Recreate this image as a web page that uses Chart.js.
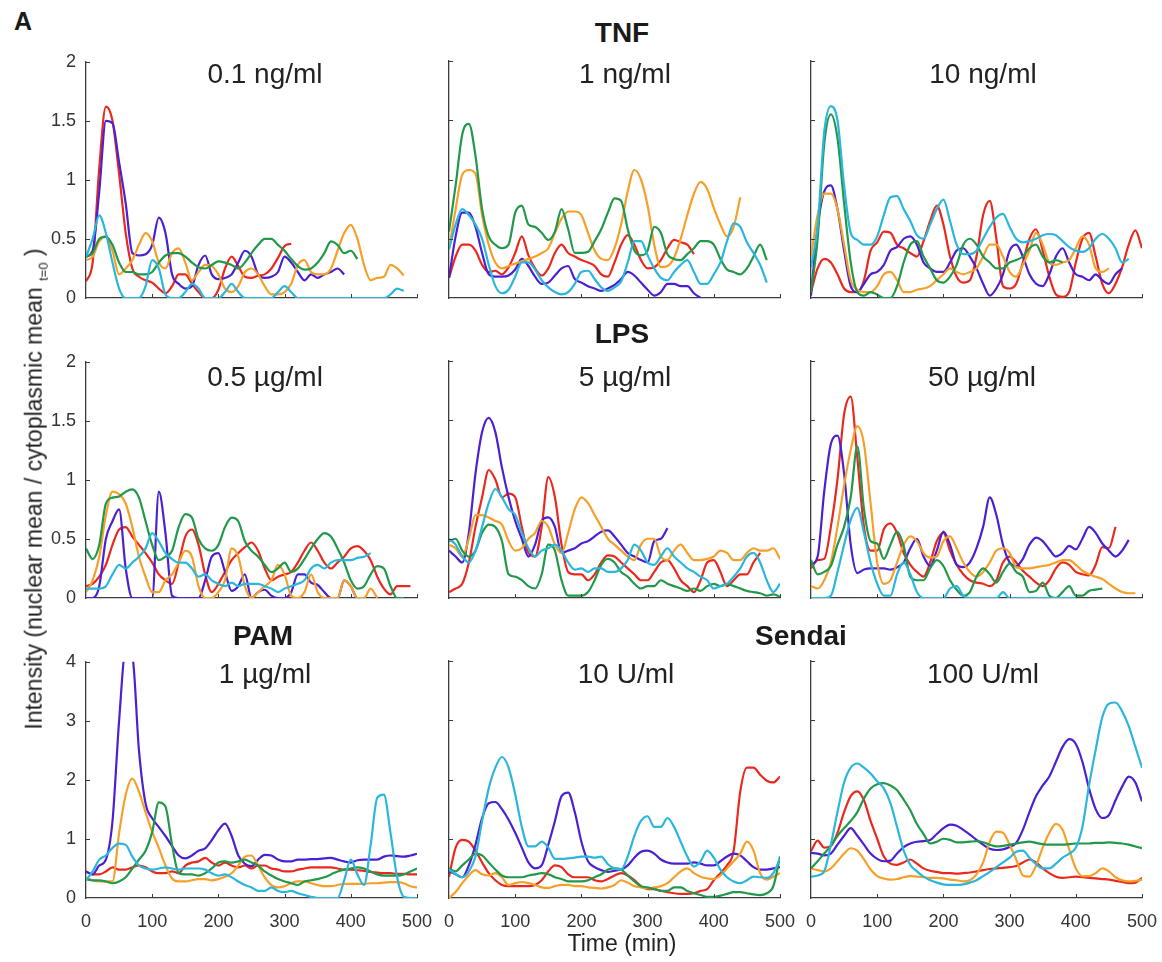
<!DOCTYPE html>
<html>
<head>
<meta charset="utf-8">
<script src="https://cdn.jsdelivr.net/npm/chart.js@4.4.1/dist/chart.umd.min.js"></script>
<style>
  body { margin: 0; background: #fff; }
  #figure { position: relative; width: 1162px; height: 962px; font-family: 'Liberation Sans', Arial, sans-serif; color: #1a1a1a; overflow: hidden; }
  #figure canvas { position: absolute; }
  .lbl { position: absolute; transform: translate(-50%, -50%); white-space: nowrap; line-height: 1; }
  .head { font-weight: bold; font-size: 28px; }
  .dose { font-size: 28px; color: #222; }
  #ylab { position: absolute; left: 36px; top: 489px; transform: translate(-50%, -50%) rotate(-90deg); white-space: nowrap; font-size: 23px; line-height: 1; color: #222; }
  #ylab sub { font-size: 13px; }
</style>
</head>
<body>
<div id="figure">
  <div class="lbl head" style="left:23px; top:21px; font-size:25px;">A</div>
  <div class="lbl head" style="left:622px; top:33px;">TNF</div>
  <div class="lbl head" style="left:622px; top:334px;">LPS</div>
  <div class="lbl head" style="left:263px; top:636px;">PAM</div>
  <div class="lbl head" style="left:801px; top:636px;">Sendai</div>
  <div class="lbl dose" style="left:265px; top:74px;">0.1 ng/ml</div>
  <div class="lbl dose" style="left:625px; top:74px;">1 ng/ml</div>
  <div class="lbl dose" style="left:983px; top:74px;">10 ng/ml</div>
  <div class="lbl dose" style="left:265px; top:377px;">0.5 µg/ml</div>
  <div class="lbl dose" style="left:625px; top:377px;">5 µg/ml</div>
  <div class="lbl dose" style="left:982px; top:377px;">50 µg/ml</div>
  <div class="lbl dose" style="left:265px; top:674px;">1 µg/ml</div>
  <div class="lbl dose" style="left:626px; top:674px;">10 U/ml</div>
  <div class="lbl dose" style="left:983px; top:674px;">100 U/ml</div>
  <div class="lbl" style="left:622px; top:943px; font-size:23px; color:#222;">Time (min)</div>
  <div id="ylab">Intensity (nuclear mean / cytoplasmic mean <sub>t=0</sub> )</div>
</div>
<script>
// temps (min), un point toutes les 10 min
const times = [0,10,20,30,40,50,60,70,80,90,100,110,120,130,140,150,160,170,180,190,200,
  210,220,230,240,250,260,270,280,290,300,310,320,330,340,350,360,370,380,390,400,
  410,420,430,440,450,460,470,480,490,500];

// graduations
const yValsLow = [0, 0.5, 1, 1.5, 2];
const yLabelsLow = ['0', '0.5', '1', '1.5', '2'];
const yValsHigh = [0, 1, 2, 3, 4];
const yLabelsHigh = ['0', '1', '2', '3', '4'];

// TNF 0.1 ng/ml
const tnf01Cyan = [0.35,0.5,0.7,0.55,0.3,0.08,0,0,0,0.1,0.32,0.25,0.03,0,0,0.05,0.12,0.08,0,0,0,0.05,0.12,0.05,0,0,0,0,0,0.05,0.1,0.05,0,0,0,0,0,0,0,0,0,0,0,0,0,0,0.03,0.08,0.06];
const tnf01Green = [0.35,0.38,0.5,0.52,0.45,0.3,0.22,0.22,0.2,0.2,0.22,0.3,0.36,0.38,0.38,0.35,0.3,0.26,0.25,0.28,0.31,0.3,0.28,0.25,0.3,0.38,0.45,0.5,0.5,0.45,0.4,0.33,0.27,0.24,0.25,0.3,0.38,0.48,0.45,0.38,0.4,0.33];
const tnf01Orange = [0.32,0.35,0.48,0.52,0.4,0.2,0.25,0.32,0.45,0.55,0.48,0.3,0.25,0.38,0.42,0.3,0.15,0.22,0.28,0.27,0.2,0.08,0.05,0.1,0.22,0.25,0.2,0.1,0.03,0.03,0.05,0.12,0.28,0.32,0.22,0.2,0.2,0.25,0.4,0.55,0.62,0.5,0.28,0.15,0.17,0.18,0.28,0.25,0.19];
const tnf01Purple = [0.35,0.4,0.9,1.5,1.48,1.15,0.8,0.38,0.36,0.37,0.45,0.68,0.55,0.2,0.12,0.08,0.1,0.28,0.36,0.2,0.16,0.17,0.2,0.3,0.4,0.35,0.2,0.17,0.18,0.22,0.35,0.3,0.22,0.15,0.2,0.17,0.2,0.22,0.25,0.2];
const tnf01Red = [0.14,0.3,1.1,1.62,1.5,1.05,0.55,0.25,0.18,0.15,0.13,0.08,0.04,0.1,0.2,0.2,0.12,0.05,0,0,0.07,0.25,0.35,0.27,0.18,0.17,0.19,0.2,0.25,0.34,0.44,0.46];

// TNF 1 ng/ml
const tnf1Cyan = [0.41,0.62,0.75,0.7,0.62,0.5,0.28,0.1,0.04,0.07,0.18,0.3,0.3,0.24,0.15,0.09,0.05,0.03,0.05,0.12,0.22,0.23,0.16,0.09,0.06,0.09,0.14,0.3,0.48,0.48,0.36,0.25,0.17,0.15,0.22,0.28,0.32,0.22,0.12,0.12,0.2,0.3,0.48,0.63,0.6,0.47,0.38,0.28,0.13];
const tnf1Green = [0.56,0.95,1.38,1.47,1.2,0.75,0.52,0.45,0.42,0.45,0.72,0.78,0.62,0.6,0.55,0.49,0.56,0.75,0.58,0.38,0.38,0.39,0.48,0.58,0.72,0.84,0.82,0.58,0.4,0.36,0.4,0.6,0.55,0.37,0.33,0.32,0.37,0.42,0.48,0.48,0.45,0.33,0.24,0.22,0.2,0.25,0.35,0.45,0.32];
const tnf1Orange = [0.41,0.75,1.04,1.08,1.05,0.7,0.45,0.3,0.25,0.27,0.29,0.31,0.33,0.35,0.38,0.42,0.55,0.67,0.73,0.73,0.7,0.55,0.4,0.33,0.32,0.42,0.62,0.9,1.08,1.0,0.78,0.45,0.26,0.27,0.34,0.5,0.7,0.88,0.98,0.92,0.76,0.62,0.52,0.6,0.85];
const tnf1Purple = [0.17,0.52,0.72,0.72,0.6,0.38,0.2,0.18,0.18,0.19,0.24,0.33,0.27,0.18,0.12,0.13,0.19,0.25,0.27,0.16,0.13,0.1,0.08,0.06,0.08,0.11,0.16,0.22,0.19,0.13,0.07,0.02,0.05,0.12,0.12,0.1,0.1,0.04,0];
const tnf1Red = [0.17,0.35,0.45,0.45,0.4,0.28,0.22,0.23,0.2,0.26,0.38,0.52,0.36,0.25,0.19,0.25,0.38,0.45,0.38,0.35,0.32,0.3,0.27,0.2,0.18,0.3,0.45,0.53,0.45,0.32,0.25,0.26,0.32,0.42,0.49,0.47,0.45,0.37];

// TNF 10 ng/ml
const tnf10Cyan = [0.26,0.6,1.4,1.62,1.5,0.95,0.55,0.49,0.45,0.45,0.52,0.7,0.85,0.86,0.75,0.65,0.53,0.5,0.62,0.75,0.83,0.65,0.45,0.37,0.37,0.4,0.5,0.6,0.68,0.71,0.6,0.5,0.47,0.48,0.5,0.53,0.54,0.53,0.48,0.43,0.4,0.39,0.42,0.5,0.54,0.5,0.42,0.3,0.33];
const tnf10Green = [0.05,0.5,1.3,1.55,1.35,0.8,0.3,0.05,0.02,0.05,0.03,0,0,0.1,0.3,0.45,0.48,0.35,0.25,0.15,0.13,0.18,0.28,0.45,0.5,0.45,0.35,0.3,0.25,0.25,0.3,0.32,0.35,0.42,0.45,0.35,0.3,0.32,0.3];
const tnf10Orange = [0.35,0.7,0.88,0.88,0.75,0.45,0.15,0.07,0.05,0.05,0.1,0.2,0.22,0.15,0.05,0.05,0.07,0.08,0.1,0.15,0.2,0.25,0.22,0.2,0.22,0.25,0.35,0.45,0.45,0.35,0.22,0.18,0.28,0.4,0.55,0.45,0.3,0.28,0.3,0.32,0.42,0.52,0.45,0.25,0.22,0.25];
const tnf10Purple = [0.02,0.6,0.9,0.95,0.75,0.4,0.1,0.05,0.12,0.2,0.22,0.28,0.4,0.43,0.5,0.52,0.45,0.3,0.25,0.22,0.22,0.3,0.4,0.42,0.35,0.25,0.12,0.02,0.08,0.2,0.4,0.45,0.35,0.2,0.12,0.1,0.2,0.35,0.42,0.3,0.2,0.18,0.15,0.2,0.15,0.12,0.2,0.25];
const tnf10Red = [0.05,0.25,0.33,0.3,0.2,0.08,0.05,0.05,0.15,0.4,0.47,0.56,0.55,0.45,0.42,0.38,0.35,0.48,0.65,0.78,0.62,0.35,0.18,0.13,0.15,0.35,0.7,0.82,0.5,0.1,0.08,0.12,0.3,0.5,0.58,0.4,0.18,0.03,0.01,0.05,0.3,0.5,0.55,0.35,0.12,0.04,0.12,0.26,0.45,0.57,0.42];

// LPS 0.5 µg/ml
const lps05Cyan = [0.08,0.08,0.08,0.1,0.2,0.28,0.25,0.3,0.35,0.42,0.55,0.48,0.38,0.33,0.3,0.3,0.25,0.18,0.2,0.15,0.12,0.1,0.13,0.1,0.12,0.12,0.12,0.1,0.08,0.05,0.08,0.1,0.12,0.15,0.25,0.28,0.25,0.3,0.32,0.32,0.32,0.34,0.35,0.38];
const lps05Green = [0.42,0.33,0.45,0.8,0.85,0.86,0.9,0.92,0.85,0.65,0.45,0.32,0.35,0.4,0.6,0.71,0.68,0.5,0.42,0.4,0.45,0.6,0.68,0.65,0.48,0.4,0.35,0.28,0.22,0.25,0.3,0.22,0.25,0.33,0.42,0.5,0.55,0.52,0.42,0.3,0.15,0.08,0.1,0.2,0.27,0.25,0.1,0,0];
const lps05Orange = [0.05,0.15,0.35,0.7,0.9,0.88,0.8,0.6,0.35,0.18,0.05,0.05,0.15,0.2,0.3,0.4,0.35,0.1,0,0,0.05,0.15,0.42,0.35,0.1,0,0.05,0.1,0.15,0.28,0.2,0.02,0,0.05,0.2,0.05,0,0,0,0.15,0.1,0,0,0.08,0];
const lps05Purple = [0,0,0.1,0.5,0.65,0.75,0.25,0,0,0,0,0.9,0.55,0.02,0,0,0,0,0.15,0.35,0.38,0.22,0.06,0.1,0.2,0,0.05,0.07,0.02,0,0,0.05,0.2,0.2,0.13,0.11,0.05,0,0,0.15,0.1,0,0];
const lps05Red = [0.1,0.12,0.18,0.28,0.45,0.58,0.6,0.52,0.45,0.38,0.3,0.2,0.15,0.12,0.3,0.52,0.58,0.45,0.2,0.05,0.12,0.22,0.32,0.38,0.43,0.47,0.4,0.25,0.15,0.18,0.2,0.22,0.3,0.4,0.47,0.4,0.3,0.25,0.3,0.35,0.42,0.44,0.4,0.32,0.18,0.08,0.03,0.1,0.1,0.1];

// LPS 5 µg/ml
const lps5Cyan = [0.5,0.45,0.35,0.3,0.4,0.6,0.8,0.92,0.85,0.75,0.7,0.55,0.42,0.35,0.4,0.42,0.45,0.4,0.3,0.24,0.25,0.22,0.25,0.25,0.22,0.22,0.25,0.32,0.45,0.4,0.3,0.28,0.35,0.42,0.35,0.3,0.25,0.22,0.18,0.15,0.08,0.1,0.12,0.18,0.25,0.35,0.38,0.3,0.15,0.05,0.12];
const lps5Green = [0.48,0.5,0.4,0.35,0.4,0.55,0.62,0.6,0.48,0.2,0.18,0.15,0.1,0.08,0.2,0.45,0.4,0.15,0.02,0.02,0.02,0.05,0.15,0.28,0.33,0.3,0.22,0.18,0.12,0.08,0.1,0.1,0.15,0.12,0.1,0.08,0.06,0.08,0.06,0.1,0.12,0.1,0.12,0.1,0.08,0.06,0.05,0.04,0.02,0.03,0.01];
const lps5Orange = [0.45,0.42,0.35,0.5,0.7,0.7,0.68,0.65,0.62,0.48,0.4,0.42,0.5,0.55,0.65,0.6,0.45,0.38,0.55,0.75,0.85,0.8,0.7,0.6,0.5,0.45,0.4,0.35,0.32,0.45,0.5,0.5,0.35,0.32,0.4,0.45,0.38,0.32,0.32,0.33,0.35,0.4,0.38,0.32,0.32,0.38,0.42,0.4,0.4,0.42,0.33];
const lps5Purple = [0.4,0.35,0.3,0.55,1.05,1.4,1.52,1.4,1.1,0.85,0.65,0.5,0.35,0.45,0.65,0.68,0.6,0.38,0.4,0.42,0.46,0.48,0.52,0.56,0.57,0.52,0.45,0.38,0.35,0.32,0.3,0.48,0.5,0.59];
const lps5Red = [0.05,0.08,0.12,0.3,0.6,0.85,1.08,1.0,0.85,0.88,0.85,0.6,0.38,0.35,0.6,1.02,0.85,0.45,0.22,0.2,0.2,0.15,0.2,0.3,0.36,0.35,0.3,0.25,0.2,0.15,0.15,0.22,0.3,0.32,0.25,0.15,0.1,0.05,0.15,0.3,0.32,0.22,0.1,0.15,0.2,0.2,0.3,0.38];

// LPS 50 µg/ml
const lps50Cyan = [0,0,0,0.02,0.22,0.45,0.66,0.76,0.55,0.3,0.12,0.02,0.02,0.2,0.3,0.2,0.05,0,0,0,0,0.08,0.1,0.02,0,0,0,0,0,0.05,0,0,0,0,0,0,0,0,0,0,0];
const lps50Green = [0.32,0.2,0.22,0.27,0.45,0.6,0.85,1.28,0.75,0.48,0.46,0.33,0.45,0.56,0.44,0.18,0.15,0.15,0.25,0.32,0.27,0.15,0.07,0.02,0.05,0.18,0.25,0.2,0.13,0.22,0.29,0.22,0.18,0.05,0.06,0.13,0.02,0,0.05,0.1,0.02,0.02,0.06,0.07,0.08];
const lps50Orange = [0.1,0.08,0.15,0.3,0.6,0.95,1.25,1.45,1.3,0.8,0.3,0.12,0.15,0.3,0.45,0.52,0.48,0.38,0.34,0.35,0.48,0.52,0.42,0.3,0.22,0.18,0.22,0.3,0.4,0.42,0.38,0.26,0.25,0.25,0.26,0.27,0.28,0.3,0.32,0.32,0.28,0.23,0.2,0.18,0.16,0.12,0.08,0.05,0.04,0.04];
const lps50Purple = [0.28,0.35,0.9,1.3,1.37,1.05,0.45,0.21,0.24,0.25,0.25,0.25,0.24,0.26,0.3,0.42,0.5,0.35,0.27,0.4,0.56,0.45,0.28,0.26,0.3,0.42,0.6,0.85,0.7,0.45,0.3,0.27,0.33,0.45,0.51,0.48,0.41,0.35,0.38,0.44,0.41,0.5,0.6,0.55,0.46,0.4,0.35,0.4,0.49];
const lps50Red = [0.25,0.32,0.33,0.6,1.0,1.55,1.7,1.18,0.6,0.4,0.4,0.58,0.63,0.55,0.38,0.28,0.22,0.18,0.3,0.48,0.55,0.4,0.28,0.2,0.15,0.13,0.12,0.1,0.15,0.3,0.35,0.3,0.23,0.18,0.13,0.1,0.15,0.25,0.3,0.28,0.22,0.2,0.19,0.28,0.43,0.42,0.6];

// PAM 1 µg/ml
const pamCyan = [0.3,0.45,0.65,0.72,0.85,0.92,0.9,0.7,0.55,0.5,0.48,0.5,0.52,0.5,0.48,0.5,0.5,0.5,0.48,0.42,0.38,0.4,0.35,0.28,0.22,0.18,0.12,0.12,0.18,0.12,0.1,0.12,0.08,0.05,0.02,0,0,0,0,0.3,0.65,0.4,0.22,0.9,1.7,1.75,1.1,0.35,0.02,0,0];
const pamGreen = [0.32,0.3,0.3,0.28,0.25,0.28,0.35,0.5,0.65,0.8,1.12,1.62,1.55,0.9,0.42,0.4,0.4,0.38,0.42,0.5,0.6,0.62,0.6,0.62,0.65,0.6,0.55,0.45,0.38,0.32,0.28,0.25,0.22,0.28,0.3,0.32,0.35,0.4,0.45,0.48,0.5,0.52,0.5,0.45,0.4,0.38,0.38,0.38,0.4,0.45,0.5];
const pamOrange = [0.35,0.3,0.28,0.28,0.28,1.1,1.75,2.02,1.8,1.45,1.12,0.85,0.55,0.33,0.28,0.28,0.3,0.32,0.32,0.3,0.32,0.36,0.42,0.55,0.7,0.72,0.55,0.35,0.22,0.18,0.2,0.25,0.28,0.28,0.25,0.22,0.2,0.2,0.22,0.24,0.24,0.24,0.24,0.25,0.25,0.26,0.27,0.27,0.25,0.2,0.18];
const pamPurple = [0.45,0.4,0.55,0.65,1.3,3.0,4.2,4.1,2.5,1.6,1.35,1.2,1.05,0.88,0.72,0.67,0.72,0.8,0.84,0.98,1.15,1.26,1.05,0.72,0.58,0.54,0.65,0.73,0.72,0.65,0.62,0.62,0.65,0.65,0.66,0.66,0.67,0.68,0.65,0.62,0.6,0.64,0.65,0.65,0.65,0.7,0.72,0.71,0.7,0.72,0.75];
const pamRed = [0.45,0.4,0.4,0.45,0.52,0.48,0.48,0.52,0.55,0.52,0.45,0.42,0.42,0.45,0.42,0.55,0.6,0.62,0.68,0.6,0.55,0.6,0.55,0.52,0.55,0.5,0.55,0.55,0.5,0.48,0.45,0.45,0.48,0.5,0.52,0.52,0.52,0.52,0.5,0.48,0.48,0.47,0.46,0.44,0.43,0.42,0.42,0.41,0.41,0.4,0.4];

// Sendai 10 U/ml
const sen10Cyan = [0.48,0.4,0.35,0.45,0.7,1.3,1.85,2.2,2.38,2.2,1.75,1.2,0.87,0.87,0.95,0.85,0.66,0.66,0.67,0.68,0.7,0.7,0.68,0.7,0.57,0.5,0.48,0.7,1.05,1.3,1.38,1.2,1.2,1.35,1.2,0.95,0.7,0.53,0.62,0.8,0.68,0.48,0.35,0.28,0.25,0.3,0.36,0.35,0.34,0.42,0.67];
const sen10Green = [0.5,0.45,0.55,0.65,0.75,0.72,0.6,0.48,0.38,0.35,0.35,0.35,0.38,0.4,0.42,0.4,0.35,0.32,0.28,0.28,0.28,0.3,0.35,0.4,0.48,0.5,0.48,0.38,0.28,0.2,0.18,0.15,0.12,0.12,0.18,0.18,0.12,0.08,0.05,0.02,0.02,0.04,0.07,0.1,0.1,0.08,0.06,0.05,0.08,0.2,0.7];
const sen10Orange = [0,0.1,0.25,0.38,0.47,0.4,0.38,0.42,0.35,0.22,0.25,0.27,0.25,0.22,0.18,0.17,0.2,0.22,0.22,0.2,0.2,0.18,0.17,0.16,0.18,0.22,0.3,0.26,0.2,0.18,0.16,0.18,0.2,0.25,0.35,0.45,0.5,0.42,0.36,0.33,0.32,0.38,0.5,0.62,0.75,0.95,0.8,0.42,0.31,0.36,0.42];
const sen10Purple = [0.45,0.4,0.35,0.55,0.9,1.35,1.6,1.62,1.5,1.32,1.1,0.85,0.6,0.5,0.55,0.9,1.3,1.72,1.78,1.45,0.95,0.62,0.52,0.47,0.44,0.46,0.48,0.55,0.68,0.78,0.8,0.75,0.65,0.6,0.58,0.58,0.58,0.6,0.58,0.55,0.55,0.62,0.7,0.75,0.72,0.62,0.52,0.48,0.48,0.5,0.52];
const sen10Red = [0.36,0.85,0.98,0.95,0.8,0.6,0.42,0.3,0.22,0.2,0.2,0.2,0.2,0.22,0.3,0.45,0.55,0.52,0.4,0.35,0.35,0.35,0.3,0.28,0.32,0.38,0.42,0.38,0.3,0.2,0.15,0.15,0.12,0.1,0.08,0.07,0.07,0.08,0.12,0.15,0.3,0.42,0.55,0.8,1.8,2.2,2.2,2.08,1.98,1.95,2.05];

// Sendai 100 U/ml
const sen100Cyan = [0.36,0.38,0.45,0.9,1.45,1.95,2.2,2.27,2.2,2.1,1.97,1.85,1.6,1.2,0.8,0.56,0.45,0.36,0.3,0.26,0.23,0.22,0.22,0.23,0.26,0.3,0.37,0.44,0.52,0.6,0.68,0.78,0.8,0.68,0.57,0.5,0.5,0.58,0.68,0.75,0.85,1.2,1.9,2.5,3.05,3.28,3.3,3.15,2.9,2.55,2.2];
const sen100Green = [0.5,0.62,0.75,0.88,1.05,1.18,1.3,1.45,1.68,1.85,1.92,1.94,1.9,1.82,1.66,1.48,1.25,1.08,0.92,0.95,1.0,0.98,0.94,0.94,0.95,0.96,0.94,0.9,0.87,0.88,0.9,0.92,0.94,0.95,0.93,0.91,0.9,0.9,0.9,0.91,0.92,0.92,0.92,0.93,0.93,0.94,0.93,0.92,0.9,0.87,0.84];
const sen100Orange = [0.5,0.47,0.45,0.5,0.62,0.75,0.84,0.8,0.65,0.48,0.37,0.33,0.31,0.32,0.35,0.37,0.36,0.35,0.34,0.34,0.33,0.31,0.3,0.28,0.3,0.4,0.6,0.95,1.12,1.1,0.9,0.65,0.38,0.36,0.55,0.85,1.1,1.25,1.15,0.82,0.5,0.37,0.37,0.42,0.5,0.45,0.35,0.3,0.28,0.29,0.31];
const sen100Purple = [0.76,0.75,0.72,0.75,0.9,1.05,1.18,1.05,0.9,0.75,0.66,0.62,0.63,0.75,0.86,0.92,0.95,0.96,0.98,1.08,1.18,1.24,1.22,1.15,1.07,0.98,0.9,0.83,0.81,0.82,0.86,0.93,1.15,1.45,1.72,1.9,2.05,2.3,2.55,2.68,2.6,2.3,1.85,1.5,1.35,1.4,1.65,1.88,2.05,1.95,1.63];
const sen100Red = [0.79,0.97,0.85,0.88,1.1,1.45,1.72,1.8,1.65,1.3,1.0,0.7,0.58,0.56,0.6,0.65,0.58,0.5,0.46,0.44,0.42,0.42,0.41,0.42,0.43,0.45,0.47,0.49,0.5,0.51,0.52,0.54,0.6,0.65,0.6,0.5,0.42,0.36,0.34,0.35,0.36,0.35,0.34,0.33,0.32,0.31,0.29,0.27,0.25,0.26,0.34];

const colours = { cyan: '#2bb6dc', green: '#21984a', orange: '#f6a02a', purple: '#4b20d2', red: '#ea291e' };

// position des axes (px) : bord gauche de chaque colonne, haut de chaque ligne
const colX = [86, 449, 811];
const rowY = [61, 361, 661];
const plotW = 331, plotH = 237;

const panels = [
  { col: 0, row: 0, series: [tnf01Cyan, tnf01Green, tnf01Orange, tnf01Purple, tnf01Red] },
  { col: 1, row: 0, series: [tnf1Cyan, tnf1Green, tnf1Orange, tnf1Purple, tnf1Red] },
  { col: 2, row: 0, series: [tnf10Cyan, tnf10Green, tnf10Orange, tnf10Purple, tnf10Red] },
  { col: 0, row: 1, series: [lps05Cyan, lps05Green, lps05Orange, lps05Purple, lps05Red] },
  { col: 1, row: 1, series: [lps5Cyan, lps5Green, lps5Orange, lps5Purple, lps5Red] },
  { col: 2, row: 1, series: [lps50Cyan, lps50Green, lps50Orange, lps50Purple, lps50Red] },
  { col: 0, row: 2, series: [pamCyan, pamGreen, pamOrange, pamPurple, pamRed] },
  { col: 1, row: 2, series: [sen10Cyan, sen10Green, sen10Orange, sen10Purple, sen10Red] },
  { col: 2, row: 2, series: [sen100Cyan, sen100Green, sen100Orange, sen100Purple, sen100Red] }
];
const seriesColours = [colours.cyan, colours.green, colours.orange, colours.purple, colours.red];

// petites graduations vers l'intérieur (style MATLAB)
const inwardTicks = {
  id: 'inwardTicks',
  afterDraw(chart) {
    const { ctx, chartArea, scales: { x, y } } = chart;
    ctx.save();
    ctx.strokeStyle = '#3c3c3c';
    ctx.lineWidth = 1;
    ctx.beginPath();
    x.ticks.forEach(t => {
      if (t.value === 0) return;
      const px = Math.round(x.getPixelForValue(t.value)) + 0.5;
      ctx.moveTo(px, chartArea.bottom);
      ctx.lineTo(px, chartArea.bottom - 4);
    });
    y.ticks.forEach(t => {
      if (t.value === 0) return;
      const py = Math.round(y.getPixelForValue(t.value)) + 0.5;
      ctx.moveTo(chartArea.left, py);
      ctx.lineTo(chartArea.left + 4, py);
    });
    ctx.stroke();
    ctx.restore();
  }
};

const figure = document.getElementById('figure');
const tickFont = { family: "'Liberation Sans', Arial, sans-serif", size: 18 };

panels.forEach(p => {
  const canvas = document.createElement('canvas');
  canvas.width = 50 + plotW + 24;
  canvas.height = 12 + plotH + 40;
  canvas.style.left = (colX[p.col] - 50) + 'px';
  canvas.style.top = (rowY[p.row] - 12) + 'px';
  figure.insertBefore(canvas, figure.firstChild);

  const high = p.row === 2;
  const yVals = high ? yValsHigh : yValsLow;
  const yLabels = high ? yLabelsHigh : yLabelsLow;

  new Chart(canvas, {
    type: 'line',
    data: {
      datasets: p.series.map((vals, i) => ({
        data: vals.map((v, k) => ({ x: times[k], y: v })),
        borderColor: seriesColours[i],
        borderWidth: 2.2,
        pointRadius: 0,
        fill: false,
        cubicInterpolationMode: 'monotone'
      }))
    },
    options: {
      responsive: false,
      animation: false,
      events: [],
      layout: { padding: { top: 12, right: 24, bottom: 0, left: 0 }, autoPadding: false },
      plugins: { legend: { display: false }, tooltip: { enabled: false } },
      scales: {
        x: {
          type: 'linear', min: 0, max: 500,
          afterFit: s => { s.height = 40; },
          grid: { display: false },
          border: { color: '#3c3c3c', width: 1.3 },
          ticks: { display: high, stepSize: 100, padding: 5, color: '#333', font: tickFont, maxRotation: 0, autoSkip: false }
        },
        y: {
          type: 'linear', min: 0, max: yVals[yVals.length - 1],
          afterFit: s => { s.width = 50; },
          grid: { display: false },
          border: { color: '#3c3c3c', width: 1.3 },
          ticks: {
            display: p.col === 0, stepSize: yVals[1], padding: 2, color: '#333', font: tickFont,
            callback: v => yLabels[yVals.indexOf(v)]
          }
        }
      }
    },
    plugins: [inwardTicks]
  });
});
</script>
</body>
</html>
